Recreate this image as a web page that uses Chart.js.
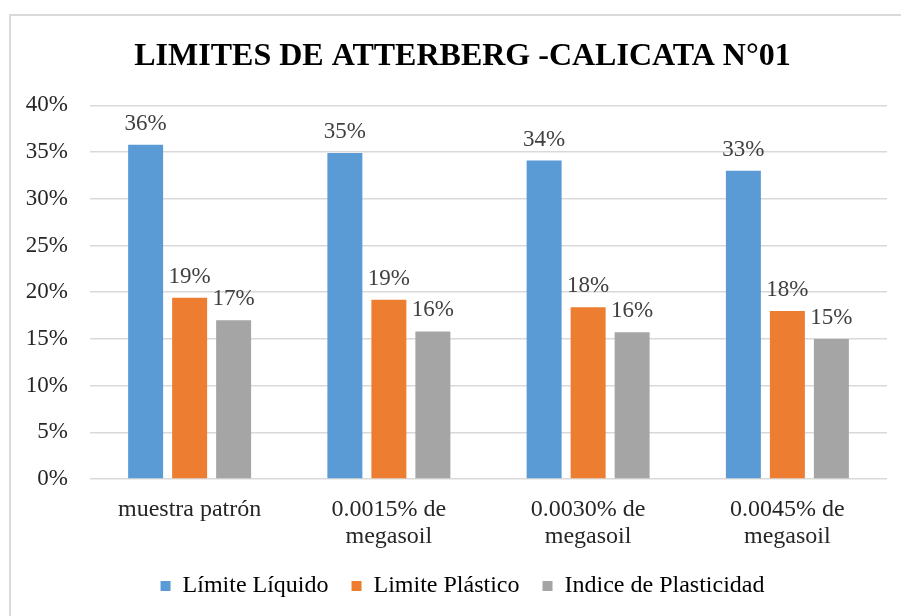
<!DOCTYPE html>
<html>
<head>
<meta charset="utf-8">
<script src="https://cdn.jsdelivr.net/npm/chart.js@4/dist/chart.umd.min.js"></script>
<style>
  html, body { margin: 0; padding: 0; background: #fff; }
  .chart-wrap { position: relative; width: 901px; height: 616px; overflow: hidden; }
  .chart-frame {
    position: absolute; left: 9px; top: 14px; width: 1000px; height: 700px;
    border-top: 2px solid #d9d9d9; border-left: 2px solid #d9d9d9;
  }
  #chart { position: absolute; left: 0; top: 0; }
</style>
</head>
<body>
<div class="chart-wrap">
  <div class="chart-frame"></div>
  <canvas id="chart" width="901" height="616"></canvas>
</div>
<script>
  // Atterberg limits per sample, in percent.
  var categories = [
    'muestra patrón',
    ['0.0015% de', 'megasoil'],
    ['0.0030% de', 'megasoil'],
    ['0.0045% de', 'megasoil']
  ];
  var limiteLiquido = [35.8, 34.9, 34.1, 33.0];
  var limitePlastico = [19.4, 19.2, 18.4, 18.0];
  var indicePlasticidad = [17.0, 15.8, 15.7, 15.0];
  var yTicks = [0, 5, 10, 15, 20, 25, 30, 35, 40];

  var serif = '"Liberation Serif", "Times New Roman", serif';

  // Value labels above every bar.
  var barLabels = {
    id: 'barLabels',
    afterDatasetsDraw: function (chart) {
      var ctx = chart.ctx;
      ctx.save();
      ctx.font = '23px ' + serif;
      ctx.fillStyle = '#404040';
      ctx.textAlign = 'center';
      ctx.textBaseline = 'alphabetic';
      chart.data.datasets.forEach(function (ds, i) {
        chart.getDatasetMeta(i).data.forEach(function (bar, j) {
          ctx.fillText(Math.round(ds.data[j]) + '%', bar.x, bar.y - 15);
        });
      });
      ctx.restore();
    }
  };

  new Chart(document.getElementById('chart'), {
    type: 'bar',
    plugins: [barLabels],
    data: {
      labels: categories,
      datasets: [
        { label: 'Límite Líquido', data: limiteLiquido, backgroundColor: '#5b9bd5' },
        { label: 'Limite Plástico', data: limitePlastico, backgroundColor: '#ed7d31' },
        { label: 'Indice de Plasticidad', data: indicePlasticidad, backgroundColor: '#a5a5a5' }
      ]
    },
    options: {
      responsive: false,
      animation: false,
      layout: { padding: { left: 24, right: 0, top: 0, bottom: 8 } },
      datasets: {
        bar: { categoryPercentage: 0.6625, barPercentage: 0.795 }
      },
      scales: {
        x: {
          grid: { display: false },
          border: { display: false },
          ticks: {
            color: '#262626',
            font: { family: serif, size: 24, lineHeight: 1.13 },
            padding: 9,
            maxRotation: 0,
            autoSkip: false
          },
          afterFit: function (scale) {
            scale.height = 72;
          }
        },
        y: {
          min: 0,
          max: 40,
          afterBuildTicks: function (scale) {
            scale.ticks = yTicks.map(function (v) { return { value: v }; });
          },
          grid: { color: '#d9d9d9', lineWidth: 1.5, drawTicks: false },
          border: { display: false },
          ticks: {
            color: '#262626',
            font: { family: serif, size: 23 },
            padding: 22,
            callback: function (v) { return v + '%'; }
          },
          afterFit: function (scale) {
            scale.width = 66;
          }
        },
        // empty strip on the right so the plot stops short of the edge
        spacer: {
          type: 'linear',
          position: 'right',
          grid: { display: false },
          border: { display: false },
          ticks: { display: false },
          afterFit: function (scale) {
            scale.width = 14;
          }
        }
      },
      plugins: {
        title: {
          display: true,
          text: 'LIMITES DE ATTERBERG -CALICATA N°01',
          color: '#000',
          font: { family: serif, size: 32, weight: 'bold', lineHeight: 1.2 },
          padding: { top: 38, bottom: 29 }
        },
        legend: {
          position: 'bottom',
          labels: {
            color: '#000',
            boxWidth: 10,
            boxHeight: 10,
            padding: 23,
            font: { family: serif, size: 24 }
          }
        },
        tooltip: { enabled: false }
      }
    }
  });
</script>
</body>
</html>
